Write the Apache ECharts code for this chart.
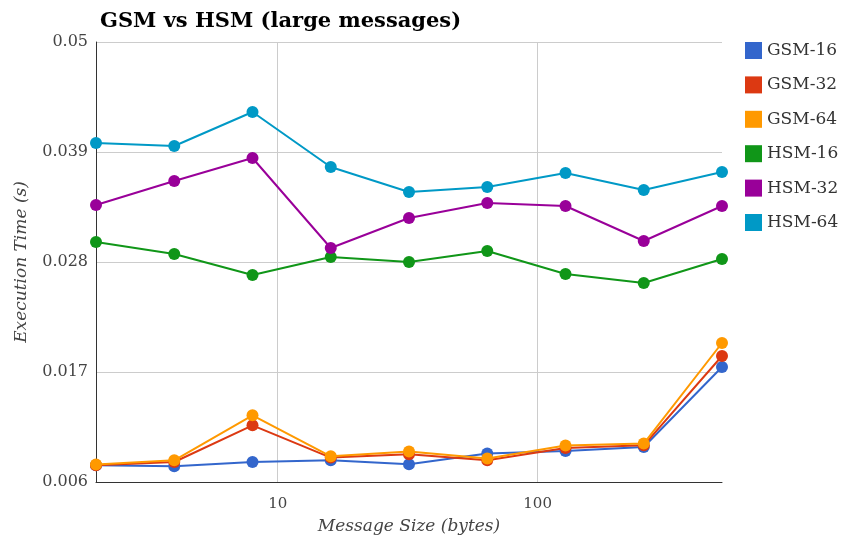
<!DOCTYPE html>
<html>
<head>
<meta charset="utf-8">
<script src="https://cdn.jsdelivr.net/npm/echarts@6/dist/echarts.min.js"></script>
<style>html,body{margin:0;padding:0;background:#fff;}#c{width:848px;height:537px;}</style>
</head>
<body>
<div id="c"></div>
<script>
const sizes = [2, 4, 8, 16, 32, 64, 128, 256, 512];
const gsm16 = [0.00767, 0.00757, 0.0080, 0.00817, 0.00777, 0.00884, 0.0091, 0.0095, 0.0175];
const gsm32 = [0.00767, 0.0080, 0.01167, 0.00844, 0.00877, 0.00817, 0.0094, 0.00967, 0.0186];
const gsm64 = [0.00774, 0.00817, 0.01267, 0.00857, 0.00904, 0.00834, 0.00964, 0.00984, 0.0199];
const hsm16 = [0.0300, 0.0288, 0.0267, 0.0285, 0.0280, 0.0291, 0.0268, 0.0259, 0.0283];
const hsm32 = [0.0337, 0.0361, 0.0384, 0.0294, 0.0324, 0.0339, 0.0336, 0.0301, 0.0336];
const hsm64 = [0.0399, 0.0396, 0.0430, 0.0375, 0.0350, 0.0355, 0.0369, 0.0352, 0.0370];
const seriesNames = ['GSM-16', 'GSM-32', 'GSM-64', 'HSM-16', 'HSM-32', 'HSM-64'];
const seriesData = [gsm16, gsm32, gsm64, hsm16, hsm32, hsm64];
const colors = ['#3366cc', '#dc3912', '#ff9900', '#109618', '#990099', '#0099c6'];
const yTicks = [0.006, 0.017, 0.028, 0.039, 0.05];

const font = '"DejaVu Serif", "Liberation Serif", serif';
const chart = echarts.init(document.getElementById('c'));
chart.setOption({
  animation: false,
  color: colors,
  textStyle: { fontFamily: font },
  title: {
    text: 'GSM vs HSM (large messages)',
    left: 95, top: 6,
    textStyle: { fontFamily: font, fontWeight: 'bold', fontSize: 21, color: '#000' }
  },
  legend: {
    orient: 'vertical',
    left: 740, top: 37,
    itemWidth: 17, itemHeight: 17, itemGap: 17.4,
    icon: 'rect',
    textStyle: { fontFamily: font, fontSize: 17, color: '#333' },
    data: seriesNames
  },
  grid: { left: 96, right: 126, top: 42, bottom: 55, outerBoundsMode: 'none' },
  xAxis: {
    type: 'log', logBase: 10, min: 2, max: 512,
    name: 'Message Size (bytes)', nameLocation: 'middle', nameGap: 36,
    nameTextStyle: { fontFamily: font, fontStyle: 'italic', fontSize: 17, color: '#444' },
    axisLine: { lineStyle: { color: '#333', width: 1 } },
    axisTick: { show: false },
    axisLabel: { showMinLabel: false, showMaxLabel: false, color: '#444', fontSize: 15, fontFamily: font, margin: 15 },
    splitLine: { show: true, showMinLine: false, showMaxLine: false, lineStyle: { color: '#ccc' } }
  },
  yAxis: {
    type: 'value', min: yTicks[0], max: yTicks[yTicks.length - 1], interval: 0.011,
    name: 'Execution Time (s)', nameLocation: 'middle', nameGap: 66,
    nameTextStyle: { fontFamily: font, fontStyle: 'italic', fontSize: 17, color: '#444' },
    axisLine: { show: true, lineStyle: { color: '#333', width: 1 } },
    axisTick: { show: false },
    axisLabel: { color: '#444', fontSize: 16, fontFamily: font, margin: 8,
      formatter: v => String(parseFloat(v.toFixed(3))) },
    splitLine: { show: true, lineStyle: { color: '#ccc' } }
  },
  series: seriesNames.map((n, i) => ({
    name: n, type: 'line',
    data: sizes.map((s, j) => [s, seriesData[i][j]]),
    symbol: 'circle', symbolSize: 12,
    lineStyle: { width: 2 },
    z: 2 + i
  }))
});
</script>
</body>
</html>
